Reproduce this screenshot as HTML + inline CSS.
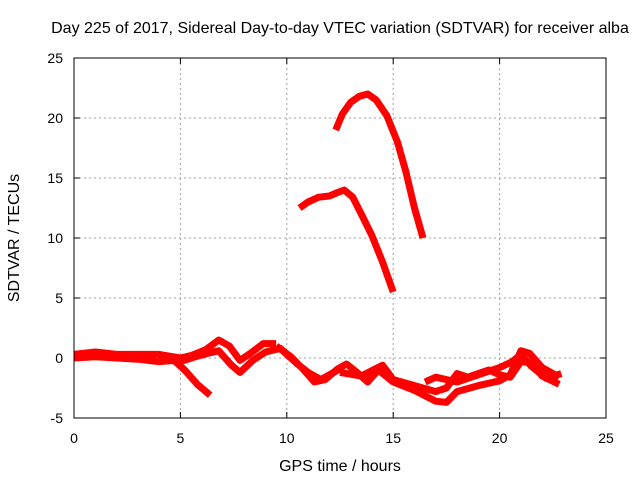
<!DOCTYPE html>
<html><head><meta charset="utf-8"><style>
body{margin:0;background:#fff}
svg{font-family:"Liberation Sans",sans-serif;font-size:14px}
</style></head><body>
<svg id="c" width="640" height="480">
<text x="340" y="33" text-anchor="middle" font-size="16">Day 225 of 2017, Sidereal Day-to-day VTEC variation (SDTVAR) for receiver alba</text>
<text x="340" y="471" text-anchor="middle" font-size="16">GPS time / hours</text>
<text transform="translate(19,238) rotate(-90)" text-anchor="middle" font-size="16">SDTVAR / TECUs</text>
<g id="grid"></g><g id="series"></g>
<rect x="74" y="58" width="532" height="360" fill="none" stroke="#000" stroke-width="1"/>
</svg>
<script>
const xTicks=[0,5,10,15,20,25];
const yTicks=[-5,0,5,10,15,20,25];
const seriesUpperH=[12.3,12.6,13,13.4,13.8,14.2,14.7,15.2,15.6,16,16.4];
const seriesUpperV=[19,20.3,21.3,21.8,22,21.5,20.2,18,15.5,12.5,10];
const seriesMidH=[10.6,11,11.5,12,12.4,12.7,13.1,13.5,14,14.5,15];
const seriesMidV=[12.5,13,13.4,13.5,13.8,14,13.4,12,10.2,8,5.5];
const t1H=[0,1,2,3,4,5,5.5,6.2,6.8,7.3,7.8,8.3,8.9,9.5];
const t1V=[0.3,0.5,0.3,0.3,0.3,0,0.2,0.7,1.5,1.0,-0.2,0.4,1.2,1.2];
const t2H=[0,1,2,3,4,4.7,5.2,5.8,6.4];
const t2V=[0,0.1,0,-0.1,-0.3,-0.2,-1,-2.2,-3.1];
const t3H=[4,5,5.7,6.3,6.8,7.4,7.8,8.4,9,9.7,10.5,11,11.6,12,12.5];
const t3V=[0.3,-0.3,0.1,0.4,0.6,-0.6,-1.2,-0.2,0.5,0.8,-0.5,-1.2,-1.8,-1.4,-0.9];
const t4H=[9.5,10.2,10.8,11.3,11.8,12.4,12.8,13.3,13.8,14.3,15,16,17,17.5,18,19,20,20.5,21,21.4,22,22.8];
const t4V=[1.0,0.1,-1.0,-2.0,-1.8,-0.9,-0.5,-1.2,-2.0,-1.0,-2.0,-2.7,-3.6,-3.7,-2.8,-2.3,-1.9,-1.4,0.6,0.4,-0.8,-1.6];
const t5H=[12.5,13.5,14.5,15,16,17,17.5,18,18.5,19.5,20,20.5,21,21.5,22,22.8];
const t5V=[-1.2,-1.5,-0.6,-1.8,-2.3,-2.8,-2.5,-1.3,-1.6,-1.0,-1.4,-1.6,-0.3,-0.4,-1.5,-2.2];
const t6H=[16.5,17,18,19,20,20.6,21,21.5,22.2,22.9];
const t6V=[-2,-1.6,-2.0,-1.4,-0.8,-0.3,0.3,-0.7,-1.7,-1.3];
const NS='http://www.w3.org/2000/svg';
const X=h=>74+h*532/25, Y=v=>418-(v+5)*12;
const grid=document.getElementById('grid'), ser=document.getElementById('series');
function mk(tag,a,p){const e=document.createElementNS(NS,tag);for(const k in a)e.setAttribute(k,a[k]);p.appendChild(e);return e;}
xTicks.forEach(t=>{const x=X(t);
 if(t>0&&t<25){const g=mk('line',{x1:x,x2:x,y1:58,y2:418,stroke:'#a0a0a0','stroke-dasharray':'2,3'},grid);
 
 }
 mk('line',{x1:x,x2:x,y1:418,y2:412,stroke:'#000'},grid);mk('line',{x1:x,x2:x,y1:58,y2:64,stroke:'#000'},grid);
 const l=mk('text',{x:x,y:443,'text-anchor':'middle'},grid);l.textContent=t;
 
 });
yTicks.forEach(t=>{const y=Y(t);
 if(t>-5&&t<25){const g=mk('line',{x1:74,x2:606,y1:y,y2:y,stroke:'#a0a0a0','stroke-dasharray':'2,3'},grid);
 
 }
 mk('line',{x1:74,x2:80,y1:y,y2:y,stroke:'#000'},grid);mk('line',{x1:606,x2:600,y1:y,y2:y,stroke:'#000'},grid);
 const l=mk('text',{x:63,y:y+5,'text-anchor':'end'},grid);l.textContent=t;
 
 });
[[seriesUpperH,seriesUpperV],[seriesMidH,seriesMidV],[t1H,t1V],[t2H,t2V],[t3H,t3V],[t4H,t4V],[t5H,t5V],[t6H,t6V]].forEach((s,i)=>{
 const pts=s[0].map((h,j)=>X(h)+','+Y(s[1][j])).join(' ');
 const p=mk('polyline',{points:pts,fill:'none',stroke:'#ff0000','stroke-width':7,'stroke-linejoin':'round','stroke-linecap':'butt'},ser);
 
 });
</script>
</body></html>
